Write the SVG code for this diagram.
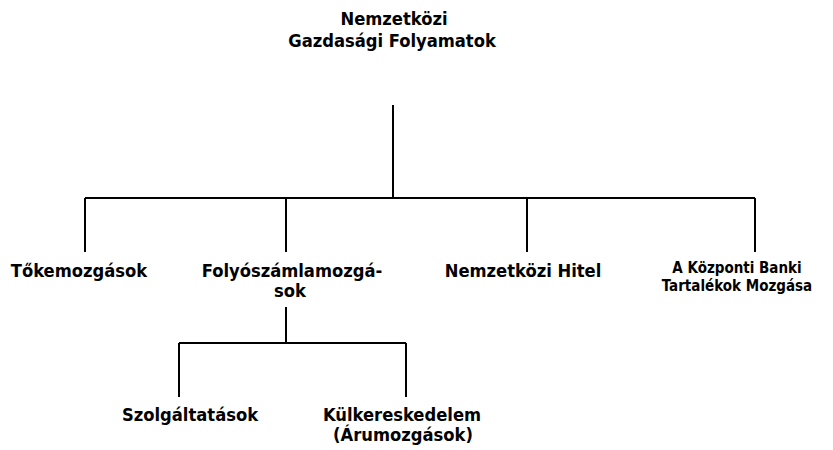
<svg xmlns="http://www.w3.org/2000/svg" width="833" height="450" viewBox="0 0 833 450">
<style>
text{font-family:"DejaVu Sans Condensed","DejaVu Sans",Verdana,sans-serif;font-weight:bold;font-size:18.2px;fill:#000;text-anchor:middle}
.s{font-size:15px}
.c{stroke:#000;stroke-width:2;fill:none}
</style>
<rect width="833" height="450" fill="#fff"/>
<g id="connectors">
<path class="c" d="M393 105V198M85 198H755M85 198V252M286 198V252M527 198V252M755 198V252"/>
<path class="c" d="M286 307V343M179 343H406M179 343V397M406 343V397"/>
</g>
<g id="root"><text x="394" y="25">Nemzetközi</text><text x="392" y="47">Gazdasági Folyamatok</text></g>
<g id="n1"><text x="79" y="277">Tőkemozgások</text></g>
<g id="n2"><text x="292" y="277">Folyószámlamozgá-</text><text x="290" y="297">sok</text></g>
<g id="n3"><text x="523" y="277">Nemzetközi Hitel</text></g>
<g id="n4"><text class="s" x="737" y="273">A Központi Banki</text><text class="s" x="737" y="291">Tartalékok Mozgása</text></g>
<g id="n5"><text x="190" y="421">Szolgáltatások</text></g>
<g id="n6"><text x="402" y="421">Külkereskedelem</text><text x="403" y="441">(Árumozgások)</text></g>
</svg>
